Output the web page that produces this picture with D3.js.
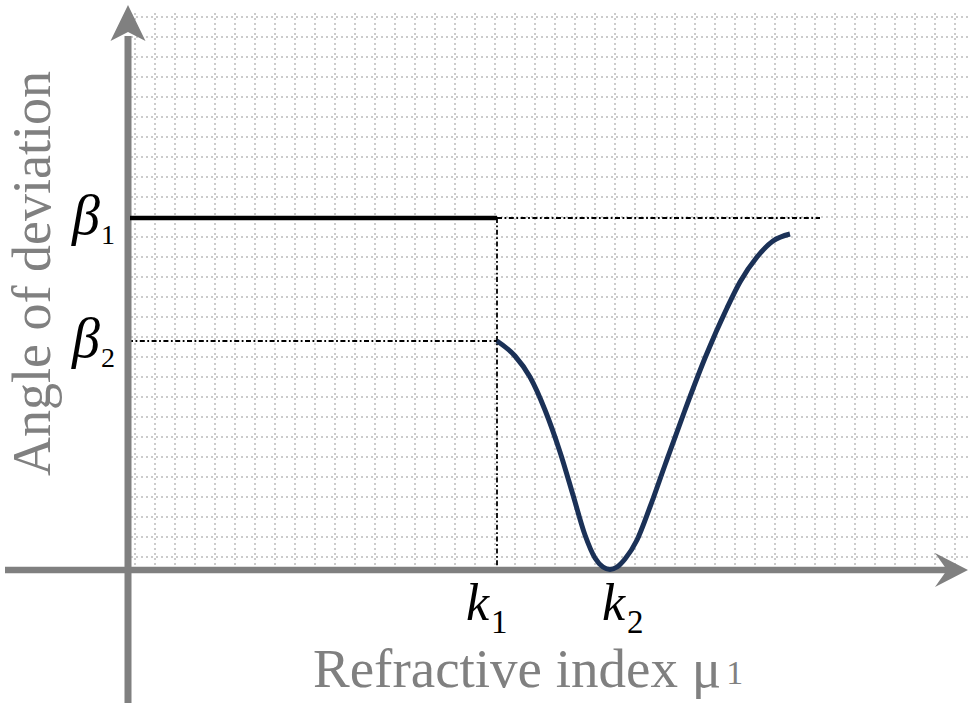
<!DOCTYPE html>
<html>
<head>
<meta charset="utf-8">
<script src="https://cdn.jsdelivr.net/npm/d3@7"></script>
<style>
html,body{margin:0;padding:0;background:#fff;}
svg{display:block;}
</style>
</head>
<body>
<svg id="chart" width="970" height="725"></svg>
<script>
// ---- data (units: one grid cell = 1) ----
const k1 = 18.45;            // refractive index k1
const k2 = 24.1;             // refractive index k2 (minimum deviation)
const beta1 = 17.6;          // angle of deviation β1
const beta2 = 11.45;         // angle of deviation β2
const guideEnd = 34.6;       // end of β1 guide line
const curveX = [18.45, 19.35, 20.1, 20.85, 21.6, 22.25, 22.85, 23.35, 23.75, 24.1, 24.45, 24.85, 25.45, 26.1, 26.85, 27.85, 28.85, 29.95, 30.6, 31.45, 32.25, 33.1];
const curveY = [11.45, 10.7, 9.65, 8.0, 5.9, 3.75, 1.75, 0.6, 0.15, 0.03, 0.15, 0.55, 1.5, 3.15, 5.25, 8.0, 10.6, 13.1, 14.4, 15.65, 16.45, 16.8];
const xTickLabels = [{v: k1, base: "k", sub: "1", off: -31}, {v: k2, base: "k", sub: "2", off: -8}];
const yTickLabels = [{v: beta1, base: "β", sub: "1"}, {v: beta2, base: "β", sub: "2"}];
const xTitle = "Refractive index ";
const yTitle = "Angle of deviation";

const svg = d3.select("#chart");
const x = d3.scaleLinear().domain([0, 42]).range([128, 968]);
const y = d3.scaleLinear().domain([0, 28]).range([570, 10]);

const gridCol = "#cccccc";
const axisCol = "#808080";
const serif = "'Liberation Serif','Times New Roman',serif";

// grid
const gx = d3.range(0.35, 42, 1);
const gy = d3.range(0.65, 28, 1);
svg.append("g").selectAll("line").data(gx).join("line")
  .attr("x1", d => x(d)).attr("x2", d => x(d))
  .attr("y1", y(27.85)).attr("y2", y(0.1))
  .attr("stroke", gridCol).attr("stroke-width", 2).attr("stroke-dasharray", "2,3");
svg.append("g").selectAll("line").data(gy).join("line")
  .attr("y1", d => y(d)).attr("y2", d => y(d))
  .attr("x1", x(0.15)).attr("x2", x(42.1))
  .attr("stroke", gridCol).attr("stroke-width", 2).attr("stroke-dasharray", "2,3");

// guide lines (dash-dot)
const dd = "5,2.5,1.8,2.5";
const guides = [
  {x1: k1, y1: beta1, x2: guideEnd, y2: beta1},
  {x1: 0, y1: beta2, x2: k1, y2: beta2},
  {x1: k1, y1: beta1, x2: k1, y2: 0}
];
svg.append("g").selectAll("line").data(guides).join("line")
  .attr("x1", d => x(d.x1)).attr("x2", d => x(d.x2))
  .attr("y1", d => y(d.y1)).attr("y2", d => y(d.y2))
  .attr("stroke", "#000").attr("stroke-width", 1.8).attr("stroke-dasharray", dd);

// axes
svg.append("line").attr("x1", x(-6.15)).attr("x2", x(41)).attr("y1", y(0)).attr("y2", y(0))
  .attr("stroke", axisCol).attr("stroke-width", 6.5);
svg.append("line").attr("x1", x(0)).attr("x2", x(0)).attr("y1", y(26.7)).attr("y2", y(-6.65))
  .attr("stroke", axisCol).attr("stroke-width", 7);
// arrowheads
const ax0 = x(0), ay0 = y(0);
svg.append("path")
  .attr("d", `M${x(42)},${ay0} L${x(40.35)},${ay0-17} L${x(40.95)},${ay0} L${x(40.35)},${ay0+17} Z`)
  .attr("fill", axisCol);
svg.append("path")
  .attr("d", `M${ax0},${y(28.25)} L${ax0+17.5},${y(26.45)} L${ax0},${y(26.9)} L${ax0-17.5},${y(26.45)} Z`)
  .attr("fill", axisCol);

// β1 solid line
svg.append("line").attr("x1", x(0.1)).attr("x2", x(k1)).attr("y1", y(beta1)).attr("y2", y(beta1))
  .attr("stroke", "#000").attr("stroke-width", 4.5);

// curve
const pts = curveX.map((v, i) => [v, curveY[i]]);
svg.append("path").datum(pts)
  .attr("d", d3.line().x(d => x(d[0])).y(d => y(d[1])).curve(d3.curveMonotoneX))
  .attr("fill", "none").attr("stroke", "#1b3157").attr("stroke-width", 5).attr("stroke-linecap", "butt");

// y labels
yTickLabels.forEach(t => {
  const tx = svg.append("text").attr("x", 72).attr("y", y(t.v) + 16)
    .attr("font-family", serif).attr("font-size", 56).attr("fill", "#000");
  tx.append("tspan").attr("font-style", "italic").text(t.base);
  tx.append("tspan").attr("font-size", 28).attr("dy", 10).attr("dx", 1).text(t.sub);
});
// x labels
xTickLabels.forEach(t => {
  const tx = svg.append("text").attr("x", x(t.v) + t.off).attr("y", 620)
    .attr("font-family", serif).attr("font-size", 52).attr("fill", "#000");
  tx.append("tspan").attr("font-style", "italic").text(t.base);
  tx.append("tspan").attr("font-size", 33).attr("dy", 13).attr("dx", 2).text(t.sub);
});

// axis titles
const xt = svg.append("text").attr("x", 313).attr("y", 687)
  .attr("font-family", serif).attr("font-size", 55).attr("fill", axisCol);
xt.append("tspan").text(xTitle);
xt.append("tspan").text("μ");
xt.append("tspan").attr("font-size", 34).attr("dy", -3).attr("dx", 5).text("1");

svg.append("text")
  .attr("transform", `translate(50,273.5) rotate(-90)`)
  .attr("text-anchor", "middle")
  .attr("font-family", serif).attr("font-size", 54).attr("fill", axisCol)
  .text(yTitle);
</script>
</body>
</html>
